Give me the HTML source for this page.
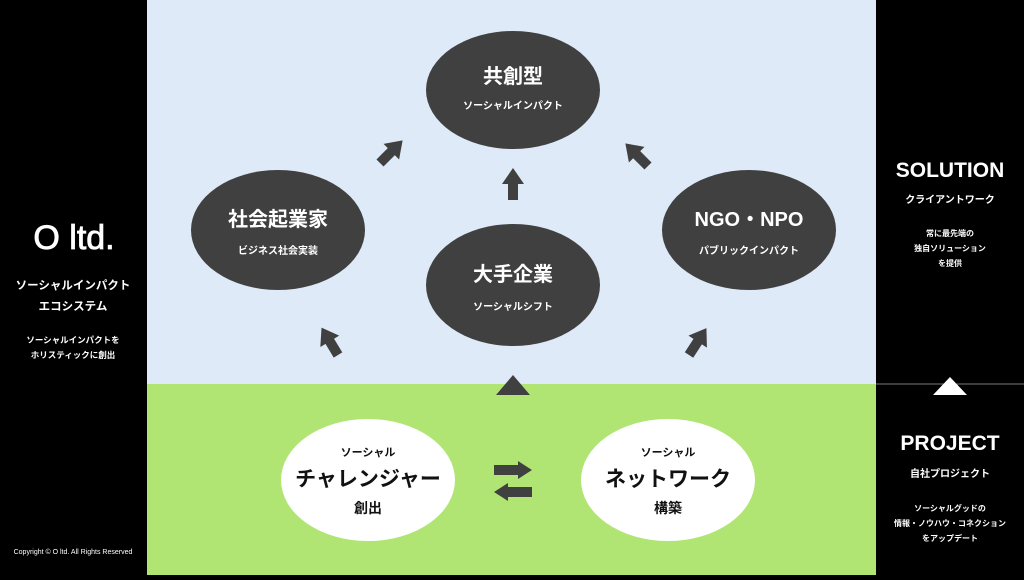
<!DOCTYPE html>
<html><head><meta charset="utf-8"><style>
html,body{margin:0;padding:0;}
body{width:1024px;height:575px;overflow:hidden;background:#000;}
svg text{font-family:"Liberation Sans","Noto Sans CJK JP",sans-serif;font-weight:bold;}
</style></head><body>
<svg width="1024" height="575" viewBox="0 0 1024 575" xmlns="http://www.w3.org/2000/svg">
<defs>
<g id="ar"><rect x="-5" y="-18" width="10" height="18" fill="#404040"/><polygon points="-11,-16 11,-16 0,-32" fill="#404040"/></g>
</defs>
<rect x="0" y="0" width="1024" height="575" fill="#000"/>
<rect x="147" y="0" width="729" height="384" fill="#deeaf7"/>
<rect x="147" y="384" width="729" height="191" fill="#b0e574"/>
<line x1="876" y1="384" x2="1024" y2="384" stroke="#777" stroke-width="1"/>

<!-- left panel -->
<text x="74" y="249" fill="#fff" font-size="34" text-anchor="middle" stroke="#fff" stroke-width="0.8" style="font-weight:normal">O ltd.</text>
<text x="73" y="289" fill="#fff" font-size="11.5" text-anchor="middle">ソーシャルインパクト</text>
<text x="73" y="310" fill="#fff" font-size="11.5" text-anchor="middle">エコシステム</text>
<text x="73" y="343" fill="#fff" font-size="8.5" text-anchor="middle">ソーシャルインパクトを</text>
<text x="73" y="358" fill="#fff" font-size="8.5" text-anchor="middle">ホリスティックに創出</text>
<text x="73" y="554" fill="#fff" font-size="7" text-anchor="middle" style="font-weight:normal">Copyright © O ltd. All Rights Reserved</text>

<!-- right panel -->
<text x="950" y="177" fill="#fff" font-size="21" text-anchor="middle">SOLUTION</text>
<text x="950" y="203" fill="#fff" font-size="10" text-anchor="middle">クライアントワーク</text>
<text x="950" y="236" fill="#fff" font-size="8" text-anchor="middle">常に最先端の</text>
<text x="950" y="251" fill="#fff" font-size="8" text-anchor="middle">独自ソリューション</text>
<text x="950" y="266" fill="#fff" font-size="8" text-anchor="middle">を提供</text>
<polygon points="933,395 967,395 950,377" fill="#fff"/>
<text x="950" y="450" fill="#fff" font-size="21" text-anchor="middle">PROJECT</text>
<text x="950" y="477" fill="#fff" font-size="10" text-anchor="middle">自社プロジェクト</text>
<text x="950" y="511" fill="#fff" font-size="8" text-anchor="middle">ソーシャルグッドの</text>
<text x="950" y="526" fill="#fff" font-size="8" text-anchor="middle">情報・ノウハウ・コネクション</text>
<text x="950" y="541" fill="#fff" font-size="8" text-anchor="middle">をアップデート</text>

<!-- dark ellipses -->
<ellipse cx="513" cy="90" rx="87" ry="59" fill="#404040"/>
<text x="513" y="83" fill="#fff" font-size="20" text-anchor="middle">共創型</text>
<text x="513" y="109" fill="#fff" font-size="10" text-anchor="middle">ソーシャルインパクト</text>

<ellipse cx="278" cy="230" rx="87" ry="60" fill="#404040"/>
<text x="278" y="226" fill="#fff" font-size="20" text-anchor="middle">社会起業家</text>
<text x="278" y="254" fill="#fff" font-size="10" text-anchor="middle">ビジネス社会実装</text>

<ellipse cx="749" cy="230" rx="87" ry="60" fill="#404040"/>
<text x="749" y="226" fill="#fff" font-size="20" text-anchor="middle">NGO・NPO</text>
<text x="749" y="254" fill="#fff" font-size="10" text-anchor="middle">パブリックインパクト</text>

<ellipse cx="513" cy="285" rx="87" ry="61" fill="#404040"/>
<text x="513" y="281" fill="#fff" font-size="20" text-anchor="middle">大手企業</text>
<text x="513" y="310" fill="#fff" font-size="10" text-anchor="middle">ソーシャルシフト</text>

<!-- arrows -->
<use href="#ar" transform="translate(513,200)"/>
<use href="#ar" transform="translate(380,163) rotate(45)"/>
<use href="#ar" transform="translate(648,166) rotate(-45)"/>
<use href="#ar" transform="translate(338,355) rotate(-31)"/>
<use href="#ar" transform="translate(689,355) rotate(33)"/>
<polygon points="496,395 530,395 513,375" fill="#404040"/>

<!-- white ellipses -->
<ellipse cx="368" cy="480" rx="87" ry="61" fill="#fff"/>
<text x="368" y="456" fill="#111" font-size="11" text-anchor="middle">ソーシャル</text>
<text x="368" y="486" fill="#111" font-size="21" text-anchor="middle">チャレンジャー</text>
<text x="368" y="513" fill="#111" font-size="14" text-anchor="middle">創出</text>

<ellipse cx="668" cy="480" rx="87" ry="61" fill="#fff"/>
<text x="668" y="456" fill="#111" font-size="11" text-anchor="middle">ソーシャル</text>
<text x="668" y="486" fill="#111" font-size="21" text-anchor="middle">ネットワーク</text>
<text x="668" y="513" fill="#111" font-size="14" text-anchor="middle">構築</text>

<polygon points="494,465 518,465 518,461 532,470 518,479 518,475 494,475" fill="#404040"/>
<polygon points="532,487 508,487 508,483 494,492 508,501 508,497 532,497" fill="#404040"/>
</svg>
</body></html>
